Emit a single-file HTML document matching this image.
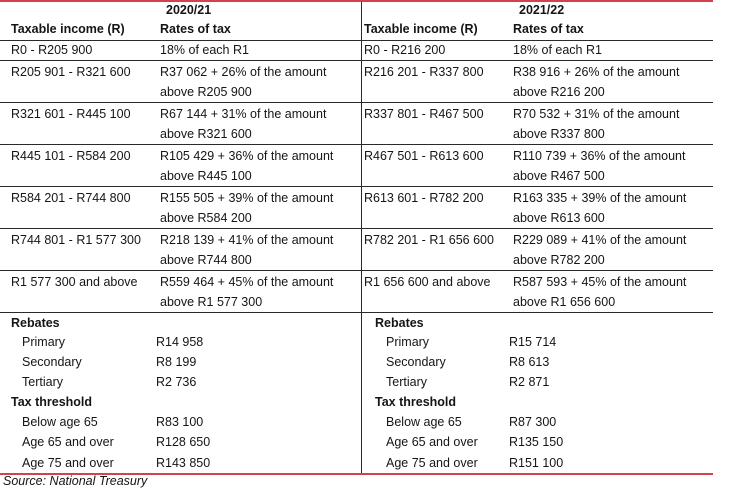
<!DOCTYPE html>
<html><head><meta charset="utf-8"><style>
body{margin:0;width:740px;height:489px;background:#fff;position:relative;overflow:hidden;font-family:"Liberation Sans",sans-serif;font-size:12.5px;color:#151515}
.t{position:absolute;line-height:20px;white-space:nowrap}
.b{font-weight:bold}
.h{position:absolute;height:1px;background:#2a2a2a}
.r{position:absolute;height:2px;background:#d4404c}
.v{position:absolute;width:1px;background:#2a2a2a}
</style></head><body>
<div class="r" style="left:0;top:0;width:713px"></div>
<div class="r" style="left:0;top:473px;width:713px"></div>
<div class="v" style="left:361px;top:2px;height:471px"></div>
<div class="h" style="left:0;top:40px;width:713px"></div>
<div class="h" style="left:0;top:60px;width:713px"></div>
<div class="h" style="left:0;top:102px;width:713px"></div>
<div class="h" style="left:0;top:144px;width:713px"></div>
<div class="h" style="left:0;top:186px;width:713px"></div>
<div class="h" style="left:0;top:228px;width:713px"></div>
<div class="h" style="left:0;top:270px;width:713px"></div>
<div class="h" style="left:0;top:312px;width:713px"></div>

<div class="t b" style="left:166px;top:0px">2020/21</div>
<div class="t b" style="left:519px;top:0px">2021/22</div>
<div class="t b" style="left:11px;top:19px">Taxable income (R)</div>
<div class="t b" style="left:160px;top:19px">Rates of tax</div>
<div class="t b" style="left:364px;top:19px">Taxable income (R)</div>
<div class="t b" style="left:513px;top:19px">Rates of tax</div>

<div class="t" style="left:11px;top:40px">R0 - R205 900</div>
<div class="t" style="left:160px;top:40px">18% of each R1</div>
<div class="t" style="left:364px;top:40px">R0 - R216 200</div>
<div class="t" style="left:513px;top:40px">18% of each R1</div>

<div class="t" style="left:11px;top:62px">R205 901 - R321 600</div>
<div class="t" style="left:160px;top:62px">R37 062 + 26% of the amount<br>above R205 900</div>
<div class="t" style="left:364px;top:62px">R216 201 - R337 800</div>
<div class="t" style="left:513px;top:62px">R38 916 + 26% of the amount<br>above R216 200</div>

<div class="t" style="left:11px;top:104px">R321 601 - R445 100</div>
<div class="t" style="left:160px;top:104px">R67 144 + 31% of the amount<br>above R321 600</div>
<div class="t" style="left:364px;top:104px">R337 801 - R467 500</div>
<div class="t" style="left:513px;top:104px">R70 532 + 31% of the amount<br>above R337 800</div>

<div class="t" style="left:11px;top:146px">R445 101 - R584 200</div>
<div class="t" style="left:160px;top:146px">R105 429 + 36% of the amount<br>above R445 100</div>
<div class="t" style="left:364px;top:146px">R467 501 - R613 600</div>
<div class="t" style="left:513px;top:146px">R110 739 + 36% of the amount<br>above R467 500</div>

<div class="t" style="left:11px;top:188px">R584 201 - R744 800</div>
<div class="t" style="left:160px;top:188px">R155 505 + 39% of the amount<br>above R584 200</div>
<div class="t" style="left:364px;top:188px">R613 601 - R782 200</div>
<div class="t" style="left:513px;top:188px">R163 335 + 39% of the amount<br>above R613 600</div>

<div class="t" style="left:11px;top:230px">R744 801 - R1 577 300</div>
<div class="t" style="left:160px;top:230px">R218 139 + 41% of the amount<br>above R744 800</div>
<div class="t" style="left:364px;top:230px">R782 201 - R1 656 600</div>
<div class="t" style="left:513px;top:230px">R229 089 + 41% of the amount<br>above R782 200</div>

<div class="t" style="left:11px;top:272px">R1 577 300 and above</div>
<div class="t" style="left:160px;top:272px">R559 464 + 45% of the amount<br>above R1 577 300</div>
<div class="t" style="left:364px;top:272px">R1 656 600 and above</div>
<div class="t" style="left:513px;top:272px">R587 593 + 45% of the amount<br>above R1 656 600</div>

<div class="t b" style="left:11px;top:313px">Rebates</div>
<div class="t" style="left:22px;top:332px">Primary</div>
<div class="t" style="left:156px;top:332px">R14 958</div>
<div class="t" style="left:22px;top:352px">Secondary</div>
<div class="t" style="left:156px;top:352px">R8 199</div>
<div class="t" style="left:22px;top:372px">Tertiary</div>
<div class="t" style="left:156px;top:372px">R2 736</div>
<div class="t b" style="left:11px;top:392px">Tax threshold</div>
<div class="t" style="left:22px;top:412px">Below age 65</div>
<div class="t" style="left:156px;top:412px">R83 100</div>
<div class="t" style="left:22px;top:432px">Age 65 and over</div>
<div class="t" style="left:156px;top:432px">R128 650</div>
<div class="t" style="left:22px;top:453px">Age 75 and over</div>
<div class="t" style="left:156px;top:453px">R143 850</div>

<div class="t b" style="left:375px;top:313px">Rebates</div>
<div class="t" style="left:386px;top:332px">Primary</div>
<div class="t" style="left:509px;top:332px">R15 714</div>
<div class="t" style="left:386px;top:352px">Secondary</div>
<div class="t" style="left:509px;top:352px">R8 613</div>
<div class="t" style="left:386px;top:372px">Tertiary</div>
<div class="t" style="left:509px;top:372px">R2 871</div>
<div class="t b" style="left:375px;top:392px">Tax threshold</div>
<div class="t" style="left:386px;top:412px">Below age 65</div>
<div class="t" style="left:509px;top:412px">R87 300</div>
<div class="t" style="left:386px;top:432px">Age 65 and over</div>
<div class="t" style="left:509px;top:432px">R135 150</div>
<div class="t" style="left:386px;top:453px">Age 75 and over</div>
<div class="t" style="left:509px;top:453px">R151 100</div>

<div class="t" style="left:3px;top:471px;font-style:italic">Source: National Treasury</div>
</body></html>
